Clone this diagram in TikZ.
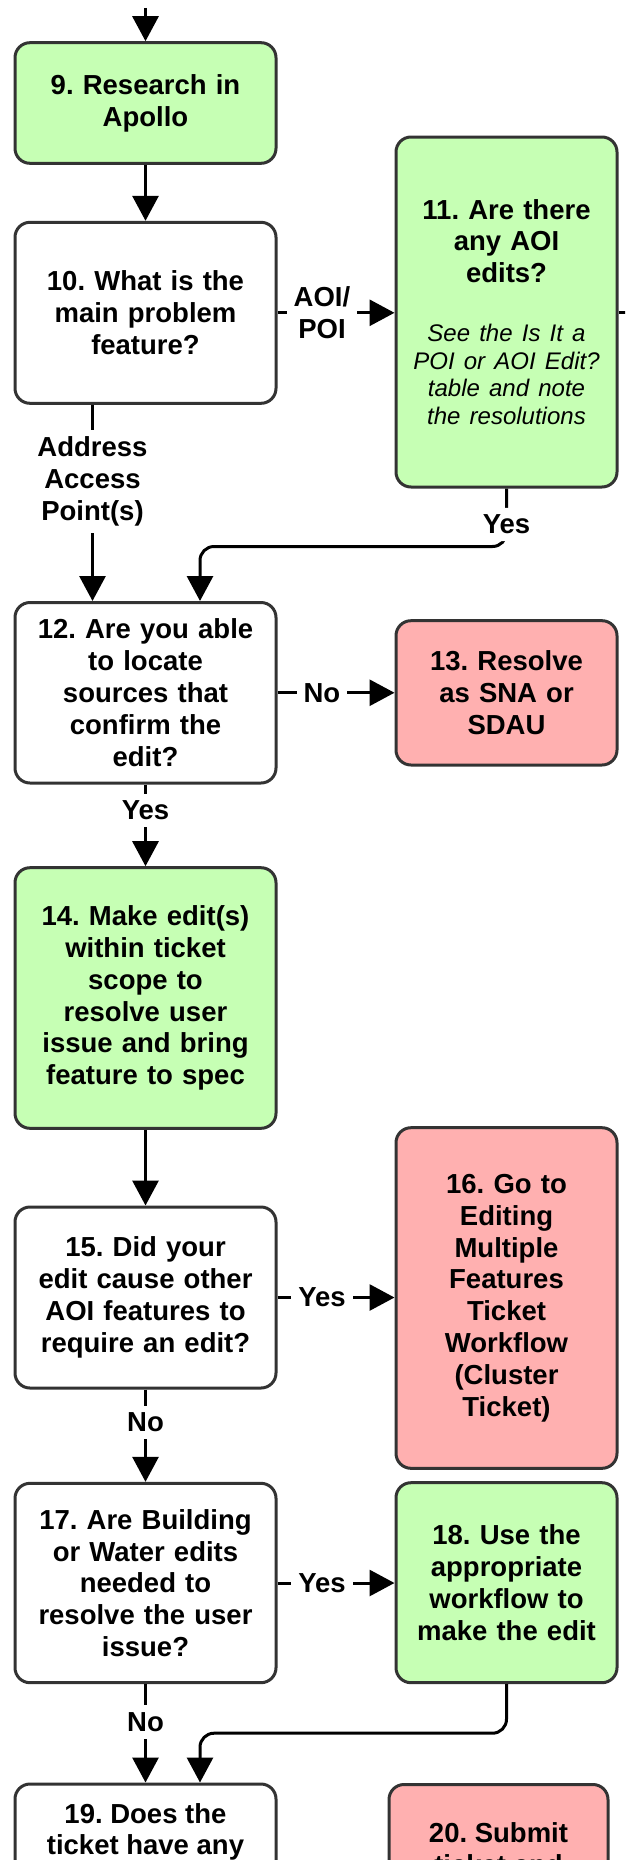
\documentclass[tikz,border=0pt]{standalone}
\usepackage{fontspec}
\setmainfont{Liberation Sans}
\usetikzlibrary{arrows.meta}
\frenchspacing

\definecolor{boxline}{RGB}{51,51,51}
\definecolor{okgreen}{RGB}{198,255,180}
\definecolor{stoppink}{RGB}{255,176,176}

\newcommand\notefont{\fontsize{24}{27.7}\selectfont\mdseries\itshape}

\tikzset{
  mainfont/.style={font=\fontsize{27.5}{31.8}\selectfont\bfseries},
  flow/.style={draw=boxline, line width=3pt, rounded corners=15pt,
    inner sep=0pt, align=center, mainfont},
  leftbox/.style={flow, minimum width=261pt, text width=255pt},
  rightbox/.style={flow, minimum width=221pt, text width=215pt},
  greenbox/.style={fill=okgreen},
  pinkbox/.style={fill=stoppink},
  whitebox/.style={fill=white},
  boxtext/.style={inner sep=0pt, align=center, mainfont},
  conn/.style={draw=black, line width=3pt, -{Triangle[width=26pt,length=25pt]}},
  plainline/.style={draw=black, line width=3pt},
  lbl/.style={fill=white, inner sep=7pt, align=center, mainfont},
}

\begin{document}
\begin{tikzpicture}[x=1pt,y=-1pt]
\useasboundingbox (0,0) rectangle (625,1860);
\clip (0,0) rectangle (625,1860);

% process and decision boxes
\node[leftbox, greenbox, minimum height=120.6pt] (b9) at (145.5,103) {9. Research in\\Apollo};
\node[leftbox, whitebox, minimum height=181pt] (b10) at (145.5,312.8) {10. What is the\\main problem\\feature?};
\node[rightbox, greenbox, minimum height=350pt] (b11) at (506.5,312)
  {11. Are there\\any AOI\\edits?\par\vspace{31pt}{\notefont See the Is It a\\POI or AOI Edit?\\table and note\\the resolutions\par}};
\node[leftbox, whitebox, minimum height=180.5pt] (b12) at (145.5,692.75) {12. Are you able\\to locate\\sources that\\confirm the\\edit?};
\node[rightbox, pinkbox, minimum height=144.3pt] (b13) at (506.5,692.85) {13. Resolve\\as SNA or\\SDAU};
\node[leftbox, greenbox, minimum height=260.6pt] (b14) at (145.5,998) {14. Make edit(s)\\within ticket\\scope to\\resolve user\\issue and bring\\feature to spec};
\node[leftbox, whitebox, minimum height=181pt] (b15) at (145.5,1297.5) {15. Did your\\edit cause other\\AOI features to\\require an edit?};
\node[rightbox, pinkbox, minimum height=340.6pt] (b16) at (506.5,1298) {16. Go to\\Editing\\Multiple\\Features\\Ticket\\Workflow\\(Cluster\\Ticket)};
\node[leftbox, whitebox, minimum height=199.4pt] (b17) at (145.5,1583) {17. Are Building\\or Water edits\\needed to\\resolve the user\\issue?};
\node[rightbox, greenbox, minimum height=200pt] (b18) at (506.5,1582.7) {18. Use the\\appropriate\\workflow to\\make the edit};
\node[leftbox, whitebox, minimum height=220pt, anchor=north] (b19) at (145.5,1782.5) {};
\node[rightbox, pinkbox, minimum width=219pt, minimum height=220pt, anchor=north] (b20) at (498.5,1783) {};
\node[boxtext, anchor=north] (b19text) at (145.5,1803) {19. Does the\\ticket have any};
\node[boxtext, anchor=north] (b20text) at (498.5,1822.5) {20. Submit\\ticket and};

% loose ends of connectors leaving the sheet
\coordinate (entry) at (145.5,8);
\coordinate (exit11) at (635,312);

% connectors
\draw[conn] (entry) -- (b9.north);
\draw[conn] (b9.south) -- (b10.north);
\draw[conn] (b10.east) -- node[lbl, pos=0.38] {AOI/\\POI} (b10.east -| b11.west);
\draw[plainline] (b11.east) -- (exit11);
\draw[conn] ([xshift=-53pt]b10.south) -- node[lbl, pos=0.39] {Address\\Access\\Point(s)} ([xshift=-53pt]b12.north);
\draw[conn, rounded corners=14pt] (b11.south) -- node[lbl, pos=0.62] {Yes} ++(0,58) -| ([xshift=54.5pt]b12.north);
\draw[conn] (b12.east) -- node[lbl, pos=0.38] {No} (b12.east -| b13.west);
\draw[conn] (b12.south) -- node[lbl, pos=0.32] {Yes} (b14.north);
\draw[conn] (b14.south) -- (b15.north);
\draw[conn] (b15.east) -- node[lbl, pos=0.38] {Yes} (b15.east -| b16.west);
\draw[conn] (b15.south) -- node[lbl, pos=0.357] {No} (b17.north);
\draw[conn] (b17.east) -- node[lbl, pos=0.38] {Yes} (b17.east -| b18.west);
\draw[conn] (b17.south) -- node[lbl, pos=0.384] {No} (b19.north);
\draw[conn, rounded corners=14pt] (b18.south) -- ++(0,49) -| ([xshift=54.5pt]b19.north);
\end{tikzpicture}
\end{document}
